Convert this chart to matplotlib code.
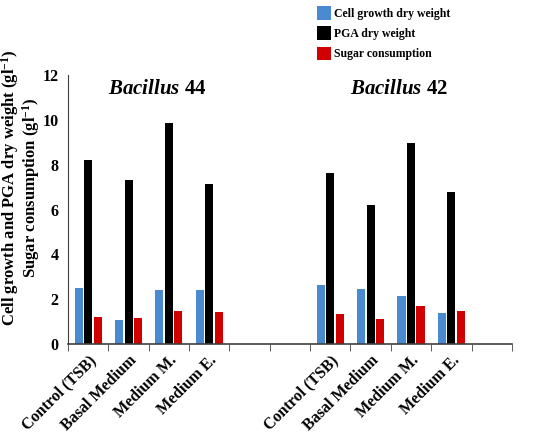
import matplotlib.pyplot as plt
import numpy as np

# category slots, blanks are the empty Excel slots
categories = ['Control (TSB)', 'Basal Medium', 'Medium M.', 'Medium E.', '', '',
              'Control (TSB)', 'Basal Medium', 'Medium M.', 'Medium E.', '']
cell_growth = [2.5, 1.05, 2.4, 2.4, 0, 0, 2.62, 2.45, 2.12, 1.38, 0]
pga_weight = [8.2, 7.3, 9.87, 7.15, 0, 0, 7.63, 6.18, 8.95, 6.77, 0]
sugar = [1.2, 1.15, 1.47, 1.44, 0, 0, 1.33, 1.12, 1.67, 1.45, 0]
series_names = ['Cell growth dry weight', 'PGA dry weight', 'Sugar consumption']
colors = ['#4a8ad0', '#000000', '#d00000']

plt.rcParams['font.family'] = ['Liberation Serif', 'DejaVu Serif']
plt.rcParams['font.weight'] = 'bold'
plt.rcParams['mathtext.fontset'] = 'custom'
plt.rcParams['mathtext.rm'] = 'Liberation Serif:bold'
plt.rcParams['mathtext.bf'] = 'Liberation Serif:bold'
plt.rcParams['mathtext.it'] = 'Liberation Serif:italic:bold'

fig = plt.figure(figsize=(5.36, 4.42), dpi=100)
ax = fig.add_axes([0.127, 0.222, 0.828, 0.608])

x = np.arange(len(categories))
w = 0.2
for i, vals in enumerate([cell_growth, pga_weight, sugar]):
    ax.bar(x + (i - 1) * 0.235, vals, w, color=colors[i], label=series_names[i])

ax.set_xlim(-0.5, len(categories) - 0.5)
ax.set_ylim(0, 12)
ax.set_yticks(range(0, 13, 2))
ax.tick_params(axis='y', length=0, pad=7, labelsize=11.5)

ax.set_xticks(x)
ax.set_xticklabels(categories, rotation=45, ha='right', rotation_mode='anchor',
                   fontsize=11.5)
ax.tick_params(axis='x', which='major', length=0, pad=6)
ax.set_xticks(np.arange(-0.5, len(categories)), minor=True)
ax.tick_params(axis='x', which='minor', length=5, color='#404040')

for s in ['top', 'right']:
    ax.spines[s].set_visible(False)
ax.spines['left'].set_color('#404040')
ax.spines['bottom'].set_color('#404040')
ax.spines['bottom'].set_linewidth(1.2)

# two-line y label
fig.text(0.038, 0.575,
         'Cell growth and PGA dry weight (gl$^{-1}$)\nSugar consumption (gl$^{-1}$)',
         rotation=90, ha='center', va='center', multialignment='center',
         fontsize=12, fontweight='bold', linespacing=0.95)

ax.text(1.7, 11.4, r'$\mathit{Bacillus}$ 44', fontsize=15, ha='center', va='center')
ax.text(7.7, 11.4, r'$\mathit{Bacillus}$ 42', fontsize=15, ha='center', va='center')

fig.legend(loc='upper left', bbox_to_anchor=(0.576, 1.005), frameon=False,
           fontsize=8.5, handlelength=1.15, handleheight=1.4, handletextpad=0.3,
           labelspacing=0.55, borderpad=0.2)

fig.savefig('out.png', dpi=100)
